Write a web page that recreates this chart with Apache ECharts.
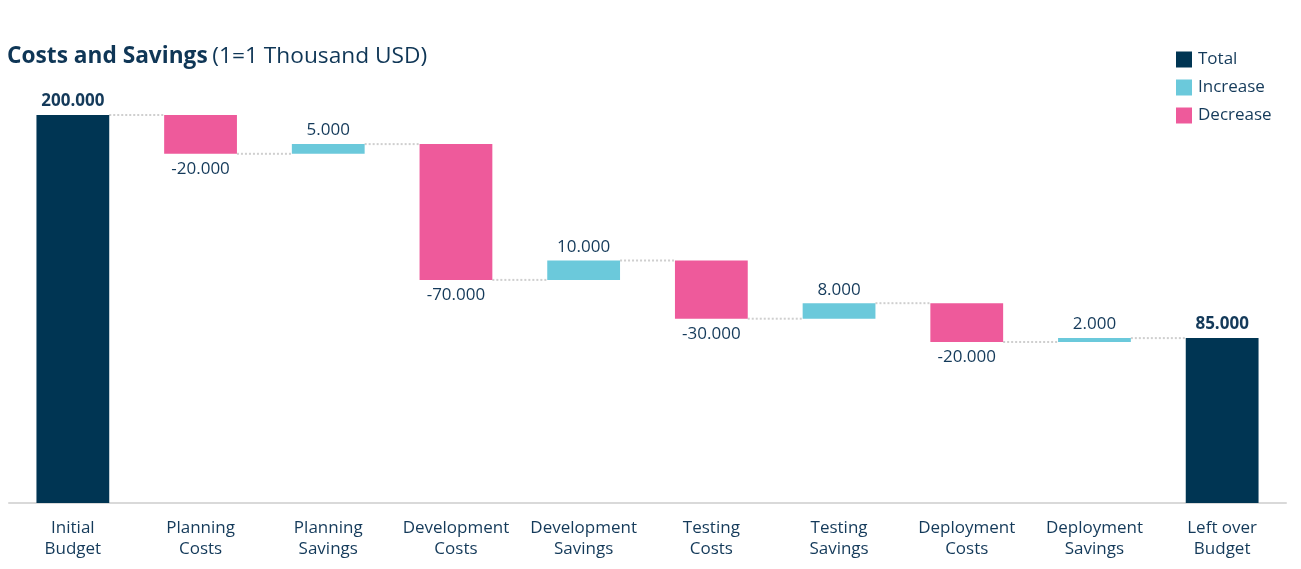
<!DOCTYPE html>
<html><head><meta charset="utf-8">
<script src="https://cdn.jsdelivr.net/npm/echarts@6/dist/echarts.min.js"></script>
<style>html,body{margin:0;padding:0;background:#fff}#c{width:1301px;height:569px}</style>
</head><body><div id="c"></div>
<script>
const categories = ['Initial\nBudget','Planning\nCosts','Planning\nSavings','Development\nCosts','Development\nSavings','Testing\nCosts','Testing\nSavings','Deployment\nCosts','Deployment\nSavings','Left over\nBudget'];
const values = [200, -20, 5, -70, 10, -30, 8, -20, 2, 85];
const kinds = ['total','delta','delta','delta','delta','delta','delta','delta','delta','total'];

const C_TOTAL = '#003553', C_INC = '#6bc9db', C_DEC = '#ee5a9b', TXT = '#143a5a';
const FONT = '"Open Sans", "Noto Sans", sans-serif';

const base = [], tot = [], inc = [], dec = [], levels = [];
let run = 0;
values.forEach((v, i) => {
  if (kinds[i] === 'total') {
    run = v; base.push(0); tot.push(v); inc.push('-'); dec.push('-');
  } else if (v >= 0) {
    base.push(run); inc.push(v); tot.push('-'); dec.push('-'); run += v;
  } else {
    base.push(run + v); dec.push(-v); tot.push('-'); inc.push('-'); run += v;
  }
  levels.push(run);
});
const connectors = levels.slice(0, -1).map((l, i) => [i, l]);
const fmt = n => n.toFixed(3);

const chart = echarts.init(document.getElementById('c'));
chart.setOption({
  animation: false,
  textStyle: { fontFamily: FONT },
  title: {
    left: 7, top: 45, padding: 0,
    text: '{b|Costs and Savings} {n|(1=1 Thousand USD)}',
    textStyle: { rich: {
      b: { fontSize: 22.7, fontWeight: 'bold', color: '#0f3656', fontFamily: FONT },
      n: { fontSize: 22.7, fontWeight: 'normal', color: '#0f3656', fontFamily: FONT }
    } }
  },
  legend: {
    orient: 'vertical', left: 1176, top: 51, padding: 0,
    itemWidth: 16, itemHeight: 16, itemGap: 11,
    icon: 'rect',
    data: ['Total', 'Increase', 'Decrease'],
    textStyle: { fontSize: 17, color: TXT, fontFamily: FONT, padding: [0,0,0,1] }
  },
  grid: { left: 9, right: 15, top: 115, bottom: 66, containLabel: false },
  xAxis: {
    type: 'category', data: categories,
    axisLine: { lineStyle: { color: '#d9d9d9', width: 2 } },
    axisTick: { show: false },
    axisLabel: { color: TXT, fontSize: 17, lineHeight: 21, margin: 15, fontFamily: FONT, interval: 0 }
  },
  yAxis: { type: 'value', min: 0, max: 200, show: false, splitLine: { show: false } },
  series: [
    { name: 'base', type: 'bar', stack: 'w', data: base, barWidth: '57%',
      itemStyle: { color: 'transparent' }, silent: true },
    { name: 'Total', type: 'bar', stack: 'w', data: tot, itemStyle: { color: C_TOTAL },
      label: { show: true, position: 'top', distance: 5, fontWeight: 'bold', fontSize: 17, color: TXT, fontFamily: FONT,
        formatter: p => fmt(p.value) } },
    { name: 'Increase', type: 'bar', stack: 'w', data: inc, itemStyle: { color: C_INC },
      label: { show: true, position: 'top', distance: 5, fontSize: 17, color: TXT, fontFamily: FONT,
        formatter: p => fmt(p.value) } },
    { name: 'Decrease', type: 'bar', stack: 'w', data: dec, itemStyle: { color: C_DEC },
      label: { show: true, position: 'bottom', distance: 7, fontSize: 17, color: TXT, fontFamily: FONT,
        formatter: p => fmt(-p.value) } },
    { name: 'conn', type: 'custom', data: connectors, silent: true, z: 1,
      renderItem: (params, api) => {
        const p = api.coord([api.value(0), api.value(1)]);
        const cw = api.size([1, 0])[0];
        const bw = cw * 0.57;
        return { type: 'line',
          shape: { x1: p[0] + bw / 2, y1: p[1], x2: p[0] + cw - bw / 2, y2: p[1] },
          style: { stroke: '#cfcfcf', lineWidth: 2, lineDash: [2, 2] } };
      } }
  ]
});
</script></body></html>
